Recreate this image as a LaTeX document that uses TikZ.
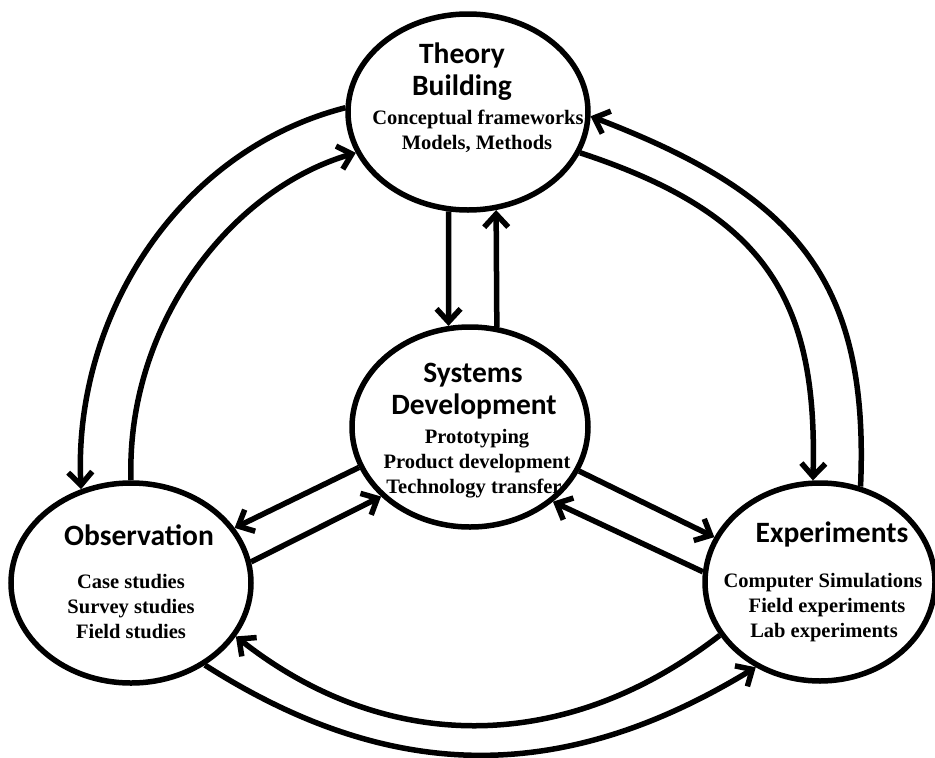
\documentclass[tikz,border=0pt]{standalone}
\usepackage{fontspec}
\setmainfont{Liberation Serif}
\newfontfamily\carl{Carlito}
\usetikzlibrary{shapes.geometric,arrows.meta}
\begin{document}
\begin{tikzpicture}[x=1pt,y=-1pt,
  ell/.style={draw, ellipse, line width=5.5pt, inner sep=0pt},
  ttl/.style={font=\carl\bfseries\fontsize{29.5}{32}\selectfont, anchor=base, inner sep=0pt},
  txt/.style={font=\bfseries\fontsize{20.5}{24}\selectfont, anchor=base, inner sep=0pt},
  con/.style={line width=5.5pt, -{Straight Barb[length=13pt,width=24pt]}}
]
\fill[white] (0,0) rectangle (935,758);
\useasboundingbox (0,0) rectangle (935,758);

% ellipses
\node[ell, minimum width=240pt, minimum height=196pt] (T) at (468,112) {};
\node[ell, minimum width=236pt, minimum height=200pt] (S) at (470,427) {};
\node[ell, minimum width=240pt, minimum height=200pt] (O) at (131,583) {};
\node[ell, minimum width=230pt, minimum height=198pt] (E) at (820,582) {};

% texts
\node[ttl] (t1) at (462,63) {Theory};
\node[ttl] (t2) at (462,95) {Building};
\node[txt] (t3) at (478,124) {Conceptual frameworks};
\node[txt] (t4) at (477,149) {Models, Methods};

\node[ttl] (s1) at (473,382) {Systems};
\node[ttl] (s2) at (474,414) {Development};
\node[txt] (s3) at (477,443) {Prototyping};
\node[txt] (s4) at (477,468) {Product development};
\node[txt] (s5) at (474,493) {Technology transfer};

\node[ttl] (o1) at (139,545) {Observation};
\node[txt] (o2) at (131,588) {Case studies};
\node[txt] (o3) at (131,613) {Survey studies};
\node[txt] (o4) at (131,638) {Field studies};

\node[ttl] (e1) at (832,542) {Experiments};
\node[txt] (e2) at (823,587) {Computer Simulations};
\node[txt] (e3) at (827,612) {Field experiments};
\node[txt] (e4) at (824,637) {Lab experiments};

% connectors
\draw[con] (T.178) .. controls (173,152) and (73,323) .. (O.118);
\draw[con] (O.90) .. controls (126,326) and (229,190) .. (T.200);
\draw[con] (E.67) .. controls (870,273) and (788,192) .. (T.358);
\draw[con] (T.340) .. controls (763,213) and (818,296) .. (E.94);

\draw[con] (T.259) -- (S.102);
\draw[con] (S.75) -- (T.286);

\draw[con] (S.200) -- (O.28);
\draw[con] (O.10) -- (S.218);
\draw[con] (S.338) -- (E.157);
\draw[con] (E.175) -- (S.318);

\draw[con] (O.312) .. controls (396,787) and (567,782) .. (E.233);
\draw[con] (E.208) .. controls (564,756) and (385,754) .. (O.333);
\end{tikzpicture}
\end{document}
